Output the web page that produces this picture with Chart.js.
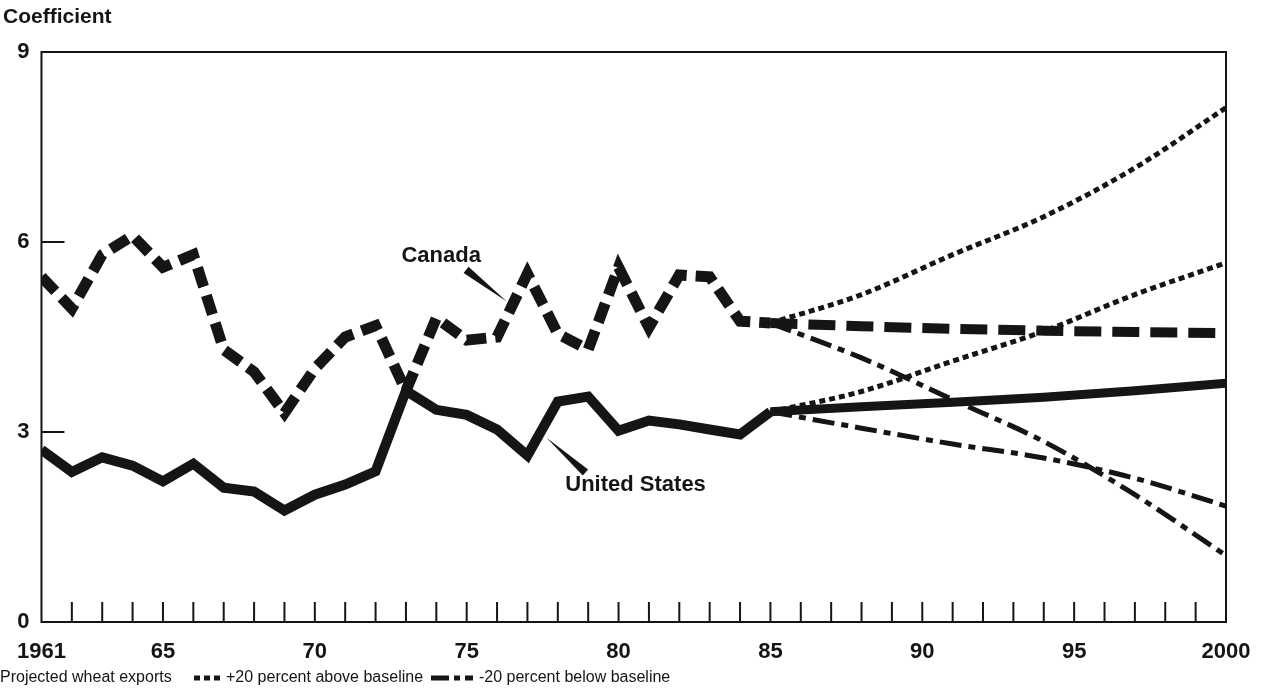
<!DOCTYPE html>
<html>
<head>
<meta charset="utf-8">
<script src="https://cdn.jsdelivr.net/npm/chart.js@4.4.1/dist/chart.umd.min.js"></script>
<style>
html, body { margin:0; padding:0; background:#fff; }
</style>
</head>
<body>
<canvas id="grafica" width="1270" height="698"></canvas>
<script>

// DATOS

const years = [1961,1962,1963,1964,1965,1966,1967,1968,1969,1970,1971,1972,1973,
               1974,1975,1976,1977,1978,1979,1980,1981,1982,1983,1984,1985];

const canada = [5.45,4.95,5.8,6.1,5.6,5.8,4.3,3.95,3.3,4.0,4.5,4.68,3.65,
                4.8,4.45,4.5,5.5,4.55,4.3,5.6,4.65,5.48,5.45,4.75,4.72];

const unitedStates = [2.72,2.37,2.6,2.47,2.22,2.5,2.12,2.06,1.76,2.01,2.17,2.38,3.65,
                      3.35,3.27,3.04,2.63,3.48,3.56,3.02,3.18,3.12,3.04,2.96,3.32];

const projYears = [1985,1988,1991,1994,1997,2000];

const canadaBase = [4.72,4.67,4.63,4.6,4.58,4.56];
const canadaHigh = [4.72,5.17,5.8,6.4,7.17,8.12];
const canadaLow  = [4.72,4.17,3.51,2.85,2.01,1.05];

const usBase = [3.32,3.4,3.47,3.55,3.65,3.77];
const usHigh = [3.32,3.64,4.12,4.59,5.17,5.67];
const usLow  = [3.32,3.06,2.81,2.59,2.27,1.83];

const xTicks = [1961,1965,1970,1975,1980,1985,1990,1995,2000];
const yTicks = [0,3,6,9];


// ESTILOS

const negro = '#151515';
const fuente = "'Liberation Sans', Arial, Helvetica, sans-serif";

const punteado = [6,4];
const rayaPunto = [22,7,7,7];


function puntos(xs, ys){
  return xs.map((x, i) => ({x: x, y: ys[i]}));
}


// MARCO, MARCAS Y TEXTOS

const marco = {
  id: 'marco',
  beforeDatasetsDraw(chart){
    const c = chart.ctx;
    const a = chart.chartArea;
    const sx = chart.scales.x;
    const sy = chart.scales.y;
    c.save();
    c.strokeStyle = negro;
    c.lineWidth = 2;
    c.strokeRect(a.left, a.top, a.right - a.left, a.bottom - a.top);
    for (let yr = xTicks[0] + 1; yr < xTicks[xTicks.length - 1]; yr++){
      const px = sx.getPixelForValue(yr);
      c.beginPath();
      c.moveTo(px, a.bottom);
      c.lineTo(px, a.bottom - 20);
      c.stroke();
    }
    [3,6].forEach(v => {
      const py = sy.getPixelForValue(v);
      c.beginPath();
      c.moveTo(a.left, py);
      c.lineTo(a.left + 23, py);
      c.stroke();
    });
    c.restore();
  },
  afterDatasetsDraw(chart){
    const c = chart.ctx;
    const sx = chart.scales.x;
    const sy = chart.scales.y;
    c.save();
    c.fillStyle = negro;

    // titulo del eje
    c.font = 'bold 21px ' + fuente;
    c.textAlign = 'left';
    c.textBaseline = 'middle';
    c.fillText('Coefficient', 3, 17);

    // etiquetas de las series
    c.font = 'bold 22px ' + fuente;
    c.textAlign = 'center';
    c.fillText('Canada', sx.getPixelForValue(1974.16), sy.getPixelForValue(5.78));
    c.fillText('United States', sx.getPixelForValue(1980.56), sy.getPixelForValue(2.17));

    cuña(c, sx.getPixelForValue(1974.98), sy.getPixelForValue(5.56),
            sx.getPixelForValue(1976.32), sy.getPixelForValue(5.06));
    cuña(c, sx.getPixelForValue(1978.91), sy.getPixelForValue(2.36),
            sx.getPixelForValue(1977.63), sy.getPixelForValue(2.91));

    // leyenda
    const yl = 678;
    c.font = '16px ' + fuente;
    c.textAlign = 'left';
    c.fillText('Projected wheat exports', 0, yl);
    muestra(c, 194, 220, yl, punteado);
    c.fillText('+20 percent above baseline', 226, yl);
    muestra(c, 431, 473, yl, [18,5,6,5]);
    c.fillText('-20 percent below baseline', 479, yl);

    c.restore();
  }
};

function cuña(c, x0, y0, x1, y1){
  const dx = x1 - x0, dy = y1 - y0;
  const len = Math.sqrt(dx*dx + dy*dy);
  const nx = -dy / len * 4, ny = dx / len * 4;
  c.beginPath();
  c.moveTo(x0 + nx, y0 + ny);
  c.lineTo(x0 - nx, y0 - ny);
  c.lineTo(x1, y1);
  c.closePath();
  c.fill();
}

function muestra(c, x0, x1, y, dash){
  c.save();
  c.strokeStyle = negro;
  c.lineWidth = 5;
  c.setLineDash(dash);
  c.beginPath();
  c.moveTo(x0, y);
  c.lineTo(x1, y);
  c.stroke();
  c.restore();
}


// GRÁFICA

const ctx = document.getElementById('grafica');

new Chart(ctx, {

type: 'line',

data: {

datasets: [

{ label: 'Canada +20', data: puntos(projYears, canadaHigh), borderDash: punteado, borderWidth: 5, cubicInterpolationMode: 'monotone' },
{ label: 'United States +20', data: puntos(projYears, usHigh), borderDash: punteado, borderWidth: 5, cubicInterpolationMode: 'monotone' },
{ label: 'Canada -20', data: puntos(projYears, canadaLow), borderDash: rayaPunto, borderWidth: 5, cubicInterpolationMode: 'monotone' },
{ label: 'United States -20', data: puntos(projYears, usLow), borderDash: rayaPunto, borderWidth: 5, cubicInterpolationMode: 'monotone' },
{ label: 'Canada baseline', data: puntos(projYears, canadaBase), borderDash: [27,11], borderWidth: 10, cubicInterpolationMode: 'monotone' },
{ label: 'United States baseline', data: puntos(projYears, usBase), borderWidth: 9, cubicInterpolationMode: 'monotone' },
{ label: 'Canada', data: puntos(years, canada), borderDash: [20,9], borderWidth: 11 },
{ label: 'United States', data: puntos(years, unitedStates), borderWidth: 10 }

]

},

options: {

responsive: false,
animation: false,
events: [],

elements: {
  point: { radius: 0 },
  line: { borderColor: negro, borderCapStyle: 'butt', borderJoinStyle: 'miter', fill: false, tension: 0 }
},

layout: { padding: { top: 52, right: 44, left: 0, bottom: 0 } },

plugins: {
  legend: { display: false },
  tooltip: { enabled: false }
},

scales: {

x: {
  type: 'linear',
  min: 1961,
  max: 2000,
  afterFit(scale){ scale.height = 76; },
  afterBuildTicks(scale){ scale.ticks = xTicks.map(v => ({value: v})); },
  grid: { display: false, drawTicks: false },
  border: { display: false },
  ticks: {
    autoSkip: false,
    maxRotation: 0,
    padding: 17,
    color: negro,
    font: { family: fuente, size: 22, weight: 'bold' },
    callback: v => (v === 1961 || v === 2000) ? String(v) : String(v).slice(2)
  }
},

y: {
  min: 0,
  max: 9,
  afterFit(scale){ scale.width = 35; },
  afterBuildTicks(scale){ scale.ticks = yTicks.map(v => ({value: v})); },
  grid: { display: false, drawTicks: false },
  border: { display: false },
  ticks: {
    padding: 12,
    color: negro,
    font: { family: fuente, size: 22, weight: 'bold' }
  }
}

}

},

plugins: [marco]

});

</script>
</body>
</html>
